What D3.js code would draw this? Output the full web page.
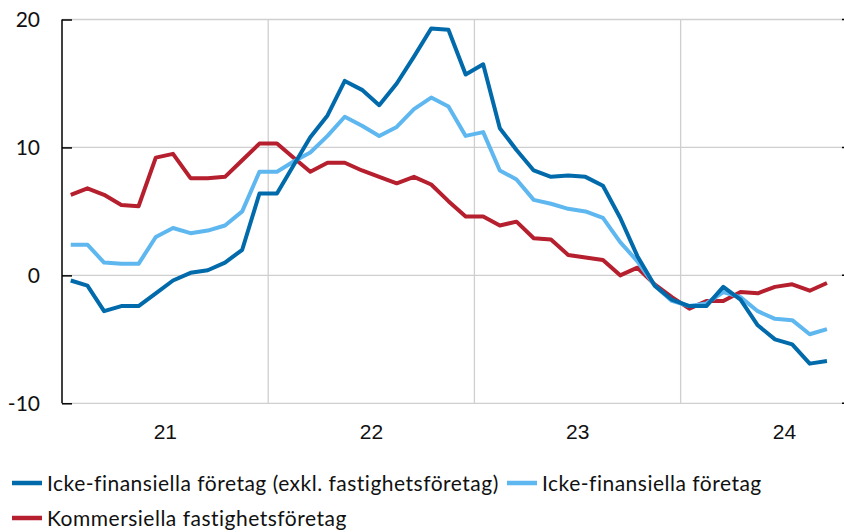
<!DOCTYPE html>
<html>
<head>
<meta charset="utf-8">
<script src="https://cdn.jsdelivr.net/npm/d3@7"></script>
<style>
	body { margin: 0; background: #fff; }
	svg { display: block; font-family: Lato, "Open Sans", sans-serif; }
</style>
</head>
<body>
<svg id="chart" width="844" height="532"></svg>
<script>
// months Jan 2021 - Sep 2024
var months = d3.timeMonth.range(new Date(2021, 0, 1), new Date(2024, 9, 1));
var yearLabels = ["21", "22", "23", "24"];
var yTicks = [-10, 0, 10, 20];

var seriesNames = [
	"Icke-finansiella företag (exkl. fastighetsföretag)",
	"Icke-finansiella företag",
	"Kommersiella fastighetsföretag"
];

var nfcExcl = [-0.4, -0.8, -2.8, -2.4, -2.4, -1.4, -0.4, 0.2, 0.4, 1.0, 2.0, 6.4,
	6.4, 8.6, 10.8, 12.5, 15.2, 14.5, 13.3, 15.0, 17.1, 19.3, 19.2, 15.7,
	16.5, 11.5, 9.8, 8.2, 7.7, 7.8, 7.7, 7.0, 4.5, 1.5, -0.8, -1.9,
	-2.4, -2.4, -0.9, -1.9, -3.9, -5.0, -5.4, -6.9, -6.7];

var nfc = [2.4, 2.4, 1.0, 0.9, 0.9, 3.0, 3.7, 3.3, 3.5, 3.9, 5.0, 8.1,
	8.1, 8.9, 9.6, 10.9, 12.4, 11.7, 10.9, 11.6, 13.0, 13.9, 13.2, 10.9,
	11.2, 8.2, 7.5, 5.9, 5.6, 5.2, 5.0, 4.5, 2.6, 1.1, -0.8, -2.0,
	-2.4, -2.2, -1.3, -1.7, -2.8, -3.4, -3.5, -4.6, -4.2];

var cre = [6.3, 6.8, 6.3, 5.5, 5.4, 9.2, 9.5, 7.6, 7.6, 7.7, 9.0, 10.3,
	10.3, 9.2, 8.1, 8.8, 8.8, 8.2, 7.7, 7.2, 7.7, 7.1, 5.8, 4.6,
	4.6, 3.9, 4.2, 2.9, 2.8, 1.6, 1.4, 1.2, 0.0, 0.6, -0.7, -1.7,
	-2.6, -2.0, -2.0, -1.3, -1.4, -0.9, -0.7, -1.2, -0.6];

var colors = ["#006aaa", "#5fb7f0", "#b51f2e"];

var svg = d3.select("#chart");
//	plot box (right end lies outside the picture, it is cropped there)
var plotLeft = 62, plotRight = 887.4, plotTop = 19.5, plotBottom = 403.3, cropRight = 844;

var x = d3.scaleTime()
	.domain([new Date(2021, 0, 1), new Date(2025, 0, 1)])
	.range([plotLeft, plotRight]);
var y = d3.scaleLinear().domain([-10, 20]).range([plotBottom, plotTop]);

function midMonth(d) {
	return (x(d) + x(d3.timeMonth.offset(d, 1))) / 2;
}

//	horizontal grid
svg.append("g").selectAll("line").data(yTicks).join("line")
	.attr("x1", plotLeft).attr("x2", cropRight)
	.attr("y1", function(d){ return y(d); }).attr("y2", function(d){ return y(d); })
	.attr("stroke", "#cfcfcf").attr("stroke-width", 1.3);

//	vertical grid at year change
var yearStarts = [new Date(2022, 0, 1), new Date(2023, 0, 1), new Date(2024, 0, 1)];
svg.append("g").selectAll("line").data(yearStarts).join("line")
	.attr("x1", function(d){ return x(d); }).attr("x2", function(d){ return x(d); })
	.attr("y1", plotTop).attr("y2", plotBottom)
	.attr("stroke", "#cfcfcf").attr("stroke-width", 1.3);

//	left axis, ticks pointing inward
var yAxis = svg.append("g").attr("transform", "translate(" + plotLeft + ",0)")
	.call(d3.axisRight(y).tickValues(yTicks).tickSize(10).tickFormat(""));
yAxis.select(".domain").attr("stroke", "#000").attr("stroke-width", 1.5).attr("d", "M0," + plotTop + "V" + plotBottom);
yAxis.selectAll(".tick line").attr("stroke", "#000").attr("stroke-width", 1.5);

svg.append("g").selectAll("text").data(yTicks).join("text")
	.attr("x", 40).attr("y", function(d){ return y(d); })
	.attr("dy", "0.36em").attr("text-anchor", "end")
	.attr("font-size", 21).attr("fill", "#111")
	.text(function(d){ return d; });

//	small ticks at right edge
svg.append("g").selectAll("line").data(yTicks).join("line")
	.attr("x1", 842).attr("x2", 844)
	.attr("y1", function(d){ return y(d); }).attr("y2", function(d){ return y(d); })
	.attr("stroke", "#000").attr("stroke-width", 1.5);

//	year labels centred in each year
var xAxis = svg.append("g").attr("transform", "translate(0," + plotBottom + ")")
	.call(d3.axisBottom(x)
		.tickValues(yearLabels.map(function(d, i){ return new Date(2021 + i, 6, 2); }))
		.tickSize(0).tickPadding(28)
		.tickFormat(function(d, i){ return yearLabels[i]; }));
xAxis.select(".domain").remove();
xAxis.selectAll("text").attr("font-size", 21).attr("fill", "#111").attr("dy", "0.36em");

//	lines
var allSeries = [nfcExcl, nfc, cre];
var line = d3.line()
	.x(function(d, i){ return midMonth(months[i]); })
	.y(function(d){ return y(d); });

[2, 1, 0].forEach(function(k){
	svg.append("path")
		.datum(allSeries[k])
		.attr("fill", "none")
		.attr("stroke", colors[k])
		.attr("stroke-width", 4)
		.attr("stroke-linejoin", "round")
		.attr("d", line);
});

//	legend
var legendPos = [{x: 12, y: 483}, {x: 507, y: 483}, {x: 12, y: 518}];
var legend = svg.append("g").selectAll("g").data(seriesNames).join("g")
	.attr("transform", function(d, i){ return "translate(" + legendPos[i].x + "," + legendPos[i].y + ")"; });
legend.append("line").attr("x1", 0).attr("x2", 30).attr("y1", 0).attr("y2", 0)
	.attr("stroke", function(d, i){ return colors[i]; }).attr("stroke-width", 4.5);
legend.append("text").attr("x", 35).attr("y", 0).attr("dy", "0.36em")
	.attr("font-size", 21).attr("letter-spacing", 0.5).attr("fill", "#111")
	.text(function(d){ return d; });
</script>
</body>
</html>
